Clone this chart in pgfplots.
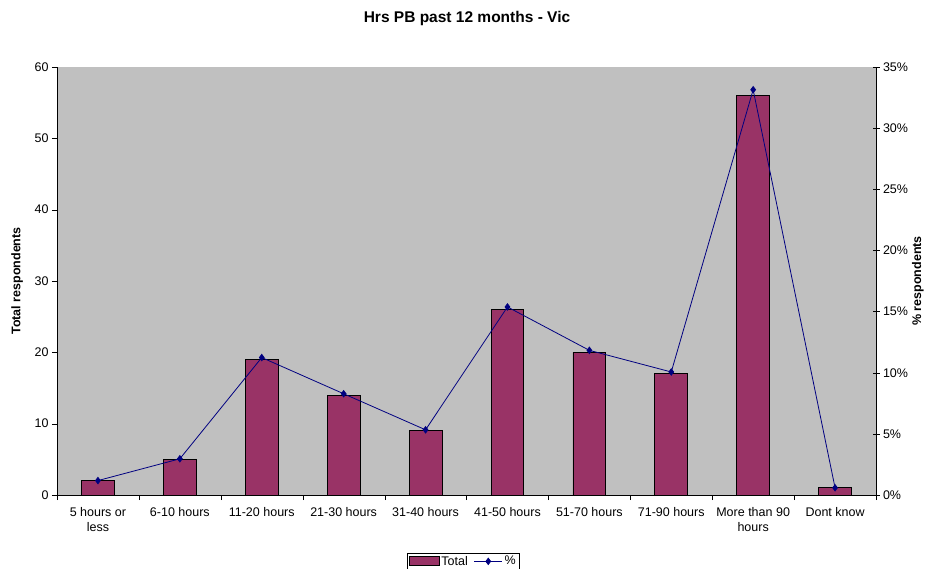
\documentclass[border=0pt]{standalone}
\usepackage{pgfplots}
\pgfplotsset{compat=1.18}
\usepackage{fontspec}
\setmainfont{Liberation Sans}
\definecolor{barc}{RGB}{153,51,102}
\definecolor{linec}{RGB}{0,0,128}
\definecolor{bgc}{RGB}{192,192,192}
\pgfplotsset{
  mylinelegend/.style={legend image code/.code={\draw[mark repeat=2,mark phase=2,##1] plot coordinates {(0pt,0pt) (14pt,0pt) (28pt,0pt)};}},
  mybarlegend/.style={legend image code/.code={\draw[fill=barc,draw=black,line width=0.8pt] (0pt,-4.5pt) rectangle (30pt,4.5pt);}},
}
\begin{document}
\begin{tikzpicture}[x=1pt,y=1pt]
\useasboundingbox (0,0) rectangle (925,568);
\node[font=\fontsize{15.5}{18}\selectfont\bfseries] at (467,550) {Hrs PB past 12 months - Vic};
\begin{axis}[
  at={(57pt,73pt)}, anchor=south west,
  width=819pt, height=428pt, scale only axis,
  xmin=-0.5, xmax=9.5, ymin=0, ymax=60,
  ytick={0,10,...,60},
  axis background/.style={fill=bgc},
  axis x line=bottom, axis y line=left,
  axis line style={-, black},
  tick align=outside, major tick length=5pt,
  xtick={0,...,9},
  xticklabels={{5 hours or\\less},{6-10 hours},{11-20 hours},{21-30 hours},{31-40 hours},{41-50 hours},{51-70 hours},{71-90 hours},{More than 90\\hours},{Dont know}},
  xticklabel style={align=center, yshift=-4pt},
  xtick style={draw=none},
  extra x ticks={-0.5,0.5,...,9.5},
  extra x tick labels={},
  extra x tick style={xtick style={draw=black}},
  ytick style={black},
  /pgf/number format/assume math mode=true,
  tick label style={font=\fontsize{12.5}{14.5}\selectfont},
  ylabel={Total respondents},
  ylabel style={font=\fontsize{12.5}{14}\selectfont\bfseries, at={(axis description cs:-0.0488,0.5)}, anchor=center, rotate=0},
]
\addplot[ybar, bar width=0.4, fill=barc, draw=black, line width=0.8pt] coordinates {
(0,2) (1,5) (2,19) (3,14) (4,9) (5,26) (6,20) (7,17) (8,56) (9,1)};
\end{axis}
\begin{axis}[
  at={(57pt,73pt)}, anchor=south west,
  width=819pt, height=428pt, scale only axis,
  xmin=-0.5, xmax=9.5, ymin=0, ymax=35,
  ytick={0,5,...,35},
  axis x line=none, axis y line=right,
  axis line style={-, black},
  tick align=center, major tick length=7pt,
  ytick style={black},
  /pgf/number format/assume math mode=true,
  yticklabel={\pgfmathprintnumber{\tick}\%},
  tick label style={font=\fontsize{12.5}{14}\selectfont},
  ylabel={\% respondents},
  ylabel style={font=\fontsize{12.5}{14}\selectfont\bfseries, at={(axis description cs:1.051,0.5)}, anchor=center, rotate=0},
  legend style={at={(0.496,-0.155)}, anchor=center, legend columns=2, draw=black, fill=white,
    font=\fontsize{12.5}{14}\selectfont, inner sep=1pt, /tikz/every even column/.append style={column sep=4pt}},
]
\addlegendimage{mybarlegend}
\addlegendentry{Total}
\addplot[linec, line width=0.8pt, mark=diamond*, mark size=3.2pt, mark options={fill=linec, draw=linec}, mylinelegend] coordinates {
(0,1.18) (1,2.96) (2,11.24) (3,8.28) (4,5.33) (5,15.38) (6,11.83) (7,10.06) (8,33.14) (9,0.59)};
\addlegendentry{\%}
\end{axis}
\end{tikzpicture}
\end{document}
